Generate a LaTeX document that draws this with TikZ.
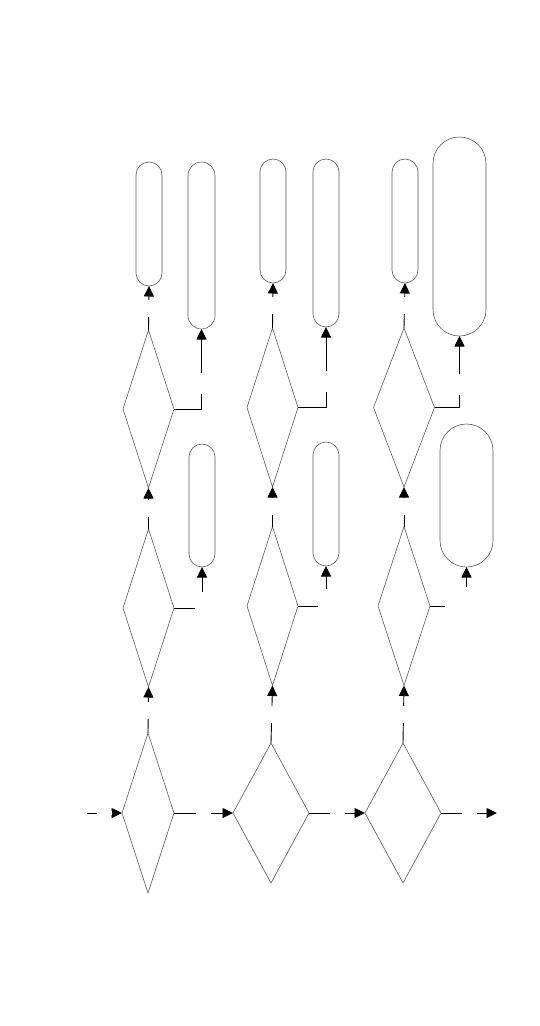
\documentclass[tikz,border=0pt]{standalone}
\usepackage{tikz}
\usetikzlibrary{shapes.geometric, arrows.meta}

\begin{document}
\begin{tikzpicture}[x=1pt,y=-1pt,
    test/.style 2 args={diamond,draw=black!65,line width=0.6pt,inner sep=0pt,outer sep=0pt,minimum width=#1,minimum height=#2},
    term/.style 2 args={rectangle,draw=black!65,line width=0.6pt,inner sep=0pt,outer sep=0pt,rounded corners=#1/2,minimum width=#1,minimum height=#2},
    conn/.style={line width=0.9pt,-{Triangle[length=10.5pt,width=10pt]}},
    hgap/.style={fill=white,inner sep=0pt,minimum width=15pt,minimum height=4pt},
    vgap/.style={fill=white,inner sep=0pt,minimum width=4pt,minimum height=#1},
    vgap/.default=17pt,
    cgap/.style 2 args={fill=white,inner sep=0pt,minimum width=#1,minimum height=#2}]
\useasboundingbox (0,0) rectangle (540,1026);

\node[test={52pt}{160pt}] (d1a) at (148,813) {};
\node[test={51pt}{158pt}] (d1b) at (148.5,608) {};
\node[test={51pt}{158pt}] (d1c) at (148.5,409) {};
\node[test={76pt}{140pt}] (d2a) at (271,813) {};
\node[test={51pt}{159pt}] (d2b) at (272.5,606) {};
\node[test={51pt}{159pt}] (d2c) at (272.5,407.5) {};
\node[test={76pt}{140pt}] (d3a) at (403,813) {};
\node[test={52pt}{159pt}] (d3b) at (404,606) {};
\node[test={61pt}{159pt}] (d3c) at (404,407.5) {};

\node[term={26pt}{124pt}] (t1a) at (149,224) {};
\node[term={27pt}{167pt}] (t1b) at (201.5,245.5) {};
\node[term={26pt}{123pt}] (t1c) at (202,505.5) {};
\node[term={26pt}{124pt}] (t2a) at (273,221) {};
\node[term={26pt}{168pt}] (t2b) at (326,243) {};
\node[term={26pt}{124pt}] (t2c) at (326,504) {};
\node[term={26pt}{124pt}] (t3a) at (405,221) {};
\node[term={53pt}{199pt}] (t3b) at (459.5,236.5) {};
\node[term={53pt}{143pt}] (t3c) at (466.5,495.5) {};

\coordinate (in) at (87,813);
\coordinate (out) at (497,813);

\path[conn]
(in) edge node[hgap] {} (d1a.west)
(d1a.east) edge node[hgap] {} (d2a.west)
(d2a.east) edge node[hgap] {} (d3a.west)
(d3a.east) edge node[hgap] {} (out)
(d1a.north) edge node[vgap] {} (d1b.south)
(d1b.north) edge node[vgap] {} (d1c.south)
(d1c.north) edge node[vgap] {} (t1a.south)
(d2a.north) edge node[vgap] {} (d2b.south)
(d2b.north) edge node[vgap] {} (d2c.south)
(d2c.north) edge node[vgap] {} (t2a.south)
(d3a.north) edge node[vgap] {} (d3b.south)
(d3b.north) edge node[vgap] {} (d3c.south)
(d3c.north) edge node[vgap] {} (t3a.south);

\draw[conn] (d1c.east) -| node[pos=.66,vgap=21pt] {} (t1b.south);
\draw[conn] (d2c.east) -| node[pos=.66,vgap=21pt] {} (t2b.south);
\draw[conn] (d3c.east) -| node[pos=.66,vgap=21pt] {} (t3b.south);
\draw[conn] (d1b.east) -| node[pos=.5,yshift=6pt,cgap={14pt}{20pt}] {} (t1c.south);
\draw[conn] (d2b.east) -| node[pos=.5,yshift=6pt,cgap={16pt}{22pt}] {} (t2c.south);
\draw[conn] (d3b.east) -| node[pos=.5,yshift=7pt,cgap={44pt}{24pt}] {} (t3c.south);
\end{tikzpicture}
\end{document}
